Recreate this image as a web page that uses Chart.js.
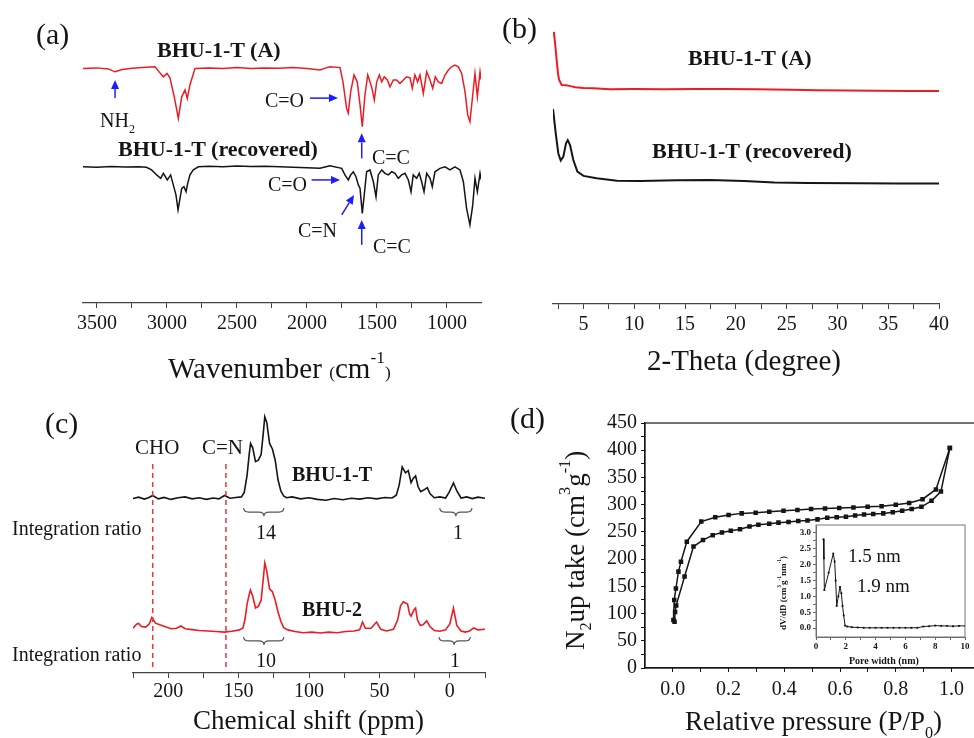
<!DOCTYPE html>
<html>
<head>
<meta charset="utf-8">
<script src="https://cdn.jsdelivr.net/npm/chart.js@4.4.1/dist/chart.umd.min.js"></script>
<style>
  html, body { margin: 0; padding: 0; background: #fff; overflow: hidden; width: 974px; height: 738px; }
  canvas { position: absolute; }
  .t { position: absolute; font-family: "Liberation Serif", "Times New Roman", serif; line-height: 1; white-space: nowrap; color: #151515; }
  .b { font-weight: bold; }
  .sp { font-size: 0.6em; position: relative; top: -0.85em; line-height: 0; }
  .sb { font-size: 0.6em; position: relative; top: 0.45em; line-height: 0; }
  .sm { font-size: 0.6em; }
</style>
</head>
<body>
<canvas id="chartA" width="490" height="390" style="left:0;top:0"></canvas>
<canvas id="chartB" width="484" height="390" style="left:490px;top:0"></canvas>
<canvas id="chartC" width="490" height="348" style="left:0;top:390px"></canvas>
<canvas id="chartD" width="495" height="348" style="left:490px;top:390px"></canvas>
<canvas id="chartInset" width="194" height="140" style="left:780px;top:515px"></canvas>
<script>
// ---- (a) FTIR, wavenumber (cm-1) vs transmittance (a.u.)
const irWaveA = [3600, 3500, 3420, 3371, 3320, 3250, 3150, 3086, 3050, 3026, 3000, 2979, 2948, 2919, 2895, 2871, 2855, 2836, 2800, 2700, 2600, 2500, 2400, 2300, 2200, 2100, 2000, 1907, 1870, 1836, 1764, 1743, 1717, 1705, 1688, 1664, 1641, 1621, 1605, 1586, 1566, 1550, 1536, 1519, 1502, 1483, 1466, 1448, 1426, 1407, 1383, 1360, 1336, 1312, 1288, 1264, 1248, 1229, 1210, 1193, 1169, 1145, 1121, 1102, 1083, 1062, 1038, 1014, 990, 967, 943, 919, 895, 871, 852, 836, 816, 800, 783, 764, 757];
const irTransA = [89.2, 89.4, 89.0, 87.9, 88.8, 89.3, 89.6, 89.8, 87.5, 86.0, 87.3, 85.6, 78.4, 70.2, 78.4, 81.0, 77.8, 82.9, 89.2, 89.4, 89.2, 89.5, 89.2, 89.4, 89.3, 89.5, 89.2, 88.6, 89.3, 89.8, 89.5, 84.1, 74.0, 72.2, 80.3, 86.7, 84.1, 75.3, 67.0, 79.1, 86.7, 84.1, 81.6, 77.2, 84.1, 86.7, 84.1, 86.0, 84.8, 82.2, 84.8, 84.8, 83.5, 84.8, 86.0, 85.6, 81.6, 86.7, 84.1, 86.7, 79.7, 87.9, 84.8, 81.6, 86.0, 84.1, 83.5, 86.7, 88.6, 89.8, 90.5, 89.8, 87.3, 80.3, 71.5, 68.9, 79.1, 87.3, 78.4, 87.9, 85.0];
const irWaveRec = [3600, 3500, 3400, 3300, 3200, 3147, 3110, 3074, 3045, 3026, 2998, 2974, 2955, 2936, 2921, 2907, 2895, 2879, 2864, 2852, 2836, 2812, 2776, 2700, 2600, 2500, 2400, 2300, 2193, 2100, 2000, 1907, 1836, 1752, 1729, 1705, 1688, 1669, 1650, 1633, 1621, 1605, 1591, 1574, 1550, 1526, 1507, 1491, 1466, 1443, 1419, 1395, 1371, 1348, 1324, 1300, 1276, 1257, 1241, 1217, 1198, 1181, 1164, 1145, 1121, 1105, 1086, 1050, 1014, 979, 943, 907, 883, 860, 836, 816, 800, 783, 764, 757];
const irTransRec = [51.8, 51.6, 51.9, 51.7, 51.8, 51.6, 50.6, 48.7, 47.4, 49.3, 46.8, 48.7, 44.9, 41.1, 35.4, 39.8, 43.6, 44.2, 42.3, 45.5, 48.7, 50.6, 51.8, 52.0, 51.8, 52.1, 51.9, 52.0, 51.8, 51.6, 51.4, 51.2, 52.2, 51.2, 48.7, 46.8, 48.7, 49.9, 48.0, 44.9, 43.6, 34.1, 41.1, 49.9, 50.6, 46.1, 40.4, 48.7, 50.6, 49.3, 48.7, 49.9, 49.3, 47.4, 48.7, 49.3, 46.8, 42.3, 48.7, 47.4, 49.3, 46.1, 42.3, 49.3, 47.4, 44.2, 49.9, 51.2, 51.8, 50.6, 51.8, 50.6, 46.1, 36.0, 29.7, 37.3, 47.4, 42.3, 49.3, 47.0];
const irMajorTicks = [1000, 1500, 2000, 2500, 3000, 3500];
const irMinorTicks = [1250, 1750, 2250, 2750, 3250];

// ---- (b) XRD, 2-theta (degree) vs intensity (a.u.)
const xrdThetaA = [2.08, 2.2, 2.36, 2.5, 2.6, 2.86, 3.3, 3.6, 4.2, 5, 6, 7.6, 10, 13, 16, 18.8, 22, 25.4, 28, 31, 34, 37, 40];
const xrdIntA = [95.8, 92.0, 85.9, 81.0, 78.9, 77.1, 77.0, 76.8, 76.3, 76.1, 76.0, 75.6, 75.7, 75.6, 75.7, 75.7, 75.6, 75.4, 75.3, 75.2, 75.1, 75.0, 75.0];
const xrdThetaRec = [2.0, 2.27, 2.52, 2.76, 3.02, 3.28, 3.45, 3.68, 4.0, 4.4, 5.0, 6.3, 8.3, 10.6, 14.2, 17.5, 20.8, 23.8, 27.1, 32, 36, 40];
const xrdIntRec = [68.7, 60.1, 53.1, 50.5, 51.9, 56.6, 57.7, 56.0, 50.7, 46.6, 45.1, 44.3, 43.4, 43.3, 43.6, 43.7, 43.3, 42.8, 42.6, 42.5, 42.4, 42.4];
const xrdMajorTicks = [5, 10, 15, 20, 25, 30, 35, 40];
const xrdMinorTicks = [2.5, 7.5, 12.5, 17.5, 22.5, 27.5, 32.5, 37.5];

// ---- (c) 13C NMR, chemical shift (ppm) vs intensity (a.u.)
const nmrShiftT = [225, 221, 217, 214, 211, 207, 203, 198, 193, 188, 183, 178, 173, 168, 164, 160, 156, 152, 148, 146, 144, 142.5, 141.5, 140, 138, 136, 134, 132.5, 131.4, 130, 128, 126, 124, 122, 120, 118, 116, 112, 106, 100, 94, 88, 82, 76, 70, 64, 58, 52, 46, 41, 38, 36, 33.8, 31.5, 29.5, 27.5, 26, 24.3, 22.5, 20.7, 18, 16, 14, 11, 7, 3, 0.5, -2.6, -5, -8, -12, -16, -20, -25];
const nmrIntT = [62.3, 62.8, 62.1, 62.6, 63.4, 62.2, 62.7, 62.0, 62.6, 62.9, 62.2, 62.6, 62.0, 62.5, 62.2, 63.4, 62.4, 62.7, 62.9, 64.5, 70.5, 78.0, 82.0, 80.5, 75.5, 76.0, 78.0, 85.5, 91.5, 89.5, 82.0, 80.0, 76.0, 69.0, 65.0, 63.2, 62.6, 62.9, 62.2, 62.6, 62.0, 61.7, 62.3, 61.9, 62.4, 62.1, 62.6, 62.2, 62.7, 62.5, 63.5, 67.0, 73.6, 71.5, 72.3, 68.0, 69.5, 70.4, 66.5, 64.8, 65.5, 66.2, 64.0, 62.6, 62.9, 62.5, 64.5, 67.9, 65.0, 62.5, 62.9, 62.3, 62.8, 62.4];
const nmrShift2 = [225, 222.5, 221, 219, 216, 213.5, 211.6, 209, 206, 202, 198, 194, 191, 188, 183, 178, 172, 166, 160, 155, 150, 147, 145.5, 144, 142.5, 141.6, 140, 138, 136, 134, 132.5, 131.4, 130, 128, 126, 124, 122, 120, 118, 115, 110, 104, 98, 92, 86, 80, 74, 68, 64, 62, 60, 56, 52, 49, 45, 40, 37, 35, 33, 31.4, 30, 28.5, 27.5, 25.5, 24.3, 23, 21, 19, 16.4, 14, 11, 7, 3, 0, -2.6, -5, -8, -11, -14, -17, -20, -25];
const nmrInt2 = [16.0, 17.4, 17.7, 16.6, 16.4, 17.5, 19.8, 17.8, 17.2, 16.5, 15.8, 16.0, 16.8, 15.8, 15.5, 15.2, 15.0, 14.8, 14.6, 14.9, 15.3, 16.0, 19.0, 24.5, 28.0, 29.6, 27.5, 23.2, 23.8, 26.0, 33.5, 39.3, 36.5, 30.0, 29.0, 26.0, 21.8, 18.5, 16.2, 15.4, 14.8, 14.4, 14.6, 14.3, 14.6, 14.4, 14.8, 15.0, 15.4, 18.2, 16.0, 16.0, 18.2, 15.6, 15.0, 15.6, 19.0, 24.0, 25.4, 25.0, 24.6, 21.0, 20.3, 22.5, 23.2, 19.0, 17.0, 17.2, 18.6, 16.5, 15.2, 14.9, 15.4, 17.5, 23.2, 17.0, 15.0, 14.6, 15.0, 16.1, 15.4, 15.6];
const nmrMajorTicks = [0, 50, 100, 150, 200];
const nmrMinorTicks = [-25, 25, 75, 125, 175, 225];
const nmrMarkerShifts = [211, 159];   // CHO, C=N

// ---- (d) N2 isotherm, P/P0 vs uptake (cm3 g-1)
const adsP = [0.006, 0.008, 0.012, 0.042, 0.074, 0.108, 0.143, 0.176, 0.208, 0.241, 0.275, 0.307, 0.346, 0.379, 0.415, 0.45, 0.483, 0.519, 0.554, 0.588, 0.621, 0.654, 0.686, 0.719, 0.755, 0.789, 0.823, 0.857, 0.892, 0.928, 0.962, 0.994];
const adsV = [85, 103, 115, 168, 223, 235, 244, 249, 252, 255, 260, 263, 265, 267, 268, 270, 271, 273, 276, 277, 278, 280, 282, 283, 284, 286, 289, 292, 296, 307, 324, 404];
const desP = [0.994, 0.944, 0.896, 0.848, 0.8, 0.749, 0.699, 0.648, 0.597, 0.546, 0.496, 0.447, 0.397, 0.346, 0.297, 0.247, 0.2, 0.152, 0.102, 0.05, 0.029, 0.02, 0.011, 0.005, 0.002];
const desV = [404, 328, 310, 303, 300, 297, 296, 295, 294, 293, 292, 290, 289, 287, 285, 284, 281, 277, 269, 232, 195, 177, 146, 125, 88];
const isoXMajor = [0, 0.2, 0.4, 0.6, 0.8, 1.0];
const isoXMinor = [0.1, 0.3, 0.5, 0.7, 0.9];
const isoYMajor = [0, 50, 100, 150, 200, 250, 300, 350, 400, 450];
const isoYMinor = [25, 75, 125, 175, 225, 275, 325, 375, 425];

// ---- (d) inset, pore size distribution
const poreWidth = [0.5, 0.53, 0.56, 0.85, 1.16, 1.25, 1.32, 1.39, 1.5, 1.61, 1.7, 1.78, 1.86, 1.95, 2.1, 2.4, 2.8, 3.2, 3.6, 4.0, 4.4, 4.8, 5.2, 5.6, 6.0, 6.4, 6.8, 7.2, 7.6, 8.0, 8.4, 8.8, 9.2, 9.6, 10.0];
const poreDvDd = [2.8, 2.2, 1.2, 1.75, 2.35, 2.1, 1.5, 0.7, 1.0, 1.3, 1.1, 0.7, 0.4, 0.08, 0.05, 0.03, 0.02, 0.01, 0.01, 0.01, 0.01, 0.01, 0.01, 0.01, 0.01, 0.01, 0.01, 0.05, 0.06, 0.08, 0.07, 0.07, 0.06, 0.07, 0.07];
const insetXMajor = [0, 2, 4, 6, 8, 10];
const insetXMinor = [1, 3, 5, 7, 9];
const insetYMajor = [0, 0.5, 1.0, 1.5, 2.0, 2.5, 3.0];
const insetYMinor = [0.25, 0.75, 1.25, 1.75, 2.25, 2.75];

const SERIF = '"Liberation Serif", "Times New Roman", serif';
const INK = '#151515';
const RED = '#ec1c24';
const BLUE = '#1d1dff';

function tickList(major, minor) {
  return [...major, ...minor].sort((a, b) => a - b).map(v => ({ value: v }));
}

function axis(o) {
  const majorSet = new Set(o.major);
  const horiz = o.pos === 'bottom';
  return {
    type: 'linear', position: o.pos, min: o.min, max: o.max, reverse: !!o.reverse,
    afterBuildTicks: ax => { ax.ticks = tickList(o.major, o.minor); },
    afterFit: ax => {
      if (horiz) { ax.height = o.size; ax.paddingLeft = 0; ax.paddingRight = 0; }
      else { ax.width = o.size; ax.paddingTop = 0; ax.paddingBottom = 0; }
    },
    grid: { drawOnChartArea: false, drawTicks: true, tickLength: o.tickLength || 5, tickColor: o.color || INK, tickWidth: 1 },
    border: { display: true, color: o.color || INK, width: o.lineWidth || 1.2 },
    ticks: {
      autoSkip: false, maxRotation: 0, padding: o.pad, color: INK,
      font: { family: SERIF, size: o.font, weight: o.bold ? 'bold' : 'normal' },
      callback: v => majorSet.has(v) ? o.fmt(v) : ''
    }
  };
}

function series(xs, ys, color, width, extra) {
  return Object.assign({
    data: xs.map((x, i) => ({ x, y: ys[i] })),
    showLine: true, borderColor: color, backgroundColor: color, borderWidth: width,
    pointRadius: 0, tension: 0
  }, extra || {});
}

// extra drawings (arrows, dashed markers, braces, frame) placed in data coordinates
function decorations(spec) {
  return {
    id: 'deco',
    afterDatasetsDraw(chart) {
      const { ctx, chartArea: ca } = chart;
      const sx = chart.scales.x, sy = chart.scales.y;
      const X = v => sx.getPixelForValue(v), Y = v => sy.getPixelForValue(v);
      ctx.save();
      (spec.dashes || []).forEach(d => {
        ctx.strokeStyle = d.color; ctx.lineWidth = 1.5; ctx.setLineDash([5, 4]);
        ctx.beginPath(); ctx.moveTo(X(d.x), Y(d.y1)); ctx.lineTo(X(d.x), Y(d.y2)); ctx.stroke();
      });
      ctx.setLineDash([]);
      (spec.arrows || []).forEach(a => {
        const x1 = X(a.x1), y1 = Y(a.y1), x2 = X(a.x2), y2 = Y(a.y2);
        const ang = Math.atan2(y2 - y1, x2 - x1), hl = 9, hw = 4;
        const bx = x2 - hl * Math.cos(ang), by = y2 - hl * Math.sin(ang);
        ctx.strokeStyle = BLUE; ctx.fillStyle = BLUE; ctx.lineWidth = 1.5;
        ctx.beginPath(); ctx.moveTo(x1, y1); ctx.lineTo(bx, by); ctx.stroke();
        ctx.beginPath();
        ctx.moveTo(x2, y2);
        ctx.lineTo(bx + hw * Math.sin(ang), by - hw * Math.cos(ang));
        ctx.lineTo(bx - hw * Math.sin(ang), by + hw * Math.cos(ang));
        ctx.closePath(); ctx.fill();
      });
      (spec.braces || []).forEach(b => {
        const l = Math.min(X(b.x1), X(b.x2)), r = Math.max(X(b.x1), X(b.x2)), c = X(b.xc);
        const yt = Y(b.yt), yb = Y(b.yb), ym = (yt + yb) / 2, k = 5;
        ctx.strokeStyle = '#555'; ctx.lineWidth = 1.2;
        ctx.beginPath();
        ctx.moveTo(l, yt);
        ctx.quadraticCurveTo(l, ym, l + k, ym);
        ctx.lineTo(c - k, ym);
        ctx.quadraticCurveTo(c, ym, c, yb);
        ctx.quadraticCurveTo(c, ym, c + k, ym);
        ctx.lineTo(r - k, ym);
        ctx.quadraticCurveTo(r, ym, r, yt);
        ctx.stroke();
      });
      if (spec.frame) {
        ctx.strokeStyle = spec.frame.color; ctx.lineWidth = spec.frame.width;
        ctx.strokeRect(ca.left, ca.top, ca.right - ca.left, ca.bottom - ca.top);
      }
      ctx.restore();
    }
  };
}

function makeChart(id, datasets, scales, padding, spec) {
  return new Chart(document.getElementById(id), {
    type: 'scatter',
    data: { datasets },
    options: {
      responsive: false, animation: false, events: [],
      layout: { padding },
      scales,
      plugins: { legend: { display: false }, tooltip: { enabled: false } }
    },
    plugins: [decorations(spec)]
  });
}

const hiddenY = { display: false, min: 0, max: 100 };

// (a)
makeChart('chartA', [
  series(irWaveA, irTransA, RED, 1.5),
  series(irWaveRec, irTransRec, INK, 1.5)
], {
  x: axis({ pos: 'bottom', min: 757, max: 3600, reverse: true, major: irMajorTicks, minor: irMinorTicks,
            fmt: v => String(v), size: 87, pad: 4, font: 20, color: '#444' }),
  y: hiddenY
}, { left: 83, right: 9, top: 40, bottom: 0 }, {
  arrows: [
    { x1: 3371, y1: 77.9, x2: 3371, y2: 84.8 },
    { x1: 1979, y1: 77.9, x2: 1779, y2: 77.9 },
    { x1: 1609, y1: 55.0, x2: 1609, y2: 64.5 },
    { x1: 1967, y1: 46.8, x2: 1764, y2: 46.8 },
    { x1: 1752, y1: 33.5, x2: 1664, y2: 41.1 },
    { x1: 1609, y1: 22.1, x2: 1609, y2: 31.6 }
  ]
});

// (b)
makeChart('chartB', [
  series(xrdThetaA, xrdIntA, RED, 2),
  series(xrdThetaRec, xrdIntRec, INK, 2)
], {
  x: axis({ pos: 'bottom', min: 2, max: 40, major: xrdMajorTicks, minor: xrdMinorTicks,
            fmt: v => String(v), size: 86, pad: 4, font: 20, color: '#444' }),
  y: hiddenY
}, { left: 63, right: 35, top: 20, bottom: 0 }, {});

// (c)
makeChart('chartC', [
  series(nmrShiftT, nmrIntT, INK, 1.6),
  series(nmrShift2, nmrInt2, RED, 1.6)
], {
  x: axis({ pos: 'bottom', min: -25, max: 225, reverse: true, major: nmrMajorTicks, minor: nmrMinorTicks,
            fmt: v => String(v), size: 65, pad: 2, font: 20, color: '#444' }),
  y: hiddenY
}, { left: 133, right: 5, top: 3, bottom: 0 }, {
  dashes: nmrMarkerShifts.map(s => ({ x: s, y1: 2.1, y2: 75, color: '#e8343a' })),
  braces: [
    { x1: 146.4, x2: 117.9, xc: 132, yt: 58.9, yb: 56.0 },
    { x1: 7.1, x2: -15.7, xc: -4.3, yt: 58.9, yb: 56.0 },
    { x1: 146.4, x2: 117.9, xc: 132, yt: 12.9, yb: 10.0 },
    { x1: 7.6, x2: -14.5, xc: -3.1, yt: 12.9, yb: 10.0 }
  ]
});

// (d)
const isoPoint = { pointStyle: 'rect', pointRadius: 3.2, pointBackgroundColor: INK, pointBorderColor: INK, pointBorderWidth: 0 };
makeChart('chartD', [
  series(adsP, adsV, INK, 1.5, isoPoint),
  series(desP, desV, INK, 1.5, isoPoint)
], {
  x: axis({ pos: 'bottom', min: -0.1, max: 1.1, major: isoXMajor, minor: isoXMinor,
            fmt: v => v.toFixed(1), size: 70, pad: 6, font: 20, tickLength: 4 }),
  y: axis({ pos: 'left', min: 0, max: 450, major: isoYMajor, minor: isoYMinor,
            fmt: v => String(v), size: 155, pad: 4, font: 20, tickLength: 4 })
}, { left: 0, right: 5.6, top: 33, bottom: 0 }, { frame: { color: INK, width: 1.2 } });

// (d) inset
makeChart('chartInset', [
  series(poreWidth, poreDvDd, INK, 1, { pointStyle: 'rect', pointRadius: 1.3, pointBackgroundColor: INK, pointBorderWidth: 0 })
], {
  x: axis({ pos: 'bottom', min: 0, max: 10, major: insetXMajor, minor: insetXMinor,
            fmt: v => String(v), size: 18, pad: 1, font: 9, bold: true, tickLength: 3, color: '#666', lineWidth: 1 }),
  y: axis({ pos: 'left', min: -0.28, max: 3.25, major: insetYMajor, minor: insetYMinor,
            fmt: v => v.toFixed(1), size: 36, pad: 2, font: 9, bold: true, tickLength: 3, color: '#666', lineWidth: 1 })
}, { left: 0, right: 9, top: 10, bottom: 0 }, { frame: { color: '#777', width: 1 } });

// ---- text
function put(html, x, base, size, o) {
  o = o || {};
  const d = document.createElement('div');
  d.className = 't' + (o.bold ? ' b' : '');
  d.innerHTML = html;
  d.style.fontSize = size + 'px';
  if (o.color) d.style.color = o.color;
  if (o.rot) {
    d.style.left = (x - 0.837 * size) + 'px';
    d.style.top = base + 'px';
    d.style.transformOrigin = '0 0';
    d.style.transform = 'rotate(-90deg)';
  } else {
    d.style.left = x + 'px';
    d.style.top = (base - 0.837 * size) + 'px';
    if (o.center) d.style.transform = 'translateX(-50%)';
  }
  document.body.appendChild(d);
}

put('(a)', 36, 44, 30);
put('BHU-1-T (A)', 157, 57, 22, { bold: true });
put('BHU-1-T (recovered)', 118, 156, 22, { bold: true });
put('NH<span class="sb">2</span>', 100, 127, 20);
put('C=O', 265, 107, 20);
put('C=C', 372, 164, 20);
put('C=O', 268, 191, 20);
put('C=N', 298, 237, 20);
put('C=C', 373, 253, 20);
put('Wavenumber <span class="sm">(</span>cm<span class="sp">-1</span><span class="sm">)</span>', 168, 378, 29);

put('(b)', 502, 38, 30);
put('BHU-1-T (A)', 688, 65, 22, { bold: true });
put('BHU-1-T (recovered)', 652, 158, 22, { bold: true });
put('2-Theta (degree)', 647, 370, 29);

put('(c)', 45, 433, 30);
put('CHO', 135, 455, 21);
put('C=N', 202, 455, 21);
put('BHU-1-T', 292, 481, 20, { bold: true });
put('BHU-2', 302, 616, 20, { bold: true });
put('Integration ratio', 12, 535, 20);
put('Integration ratio', 12, 661, 20);
put('14', 266, 539, 20, { center: true });
put('1', 458, 539, 20, { center: true });
put('10', 266, 667, 20, { center: true });
put('1', 455, 667, 20, { center: true });
put('Chemical shift (ppm)', 193, 730, 27);

put('(d)', 510, 428, 30);
put('N<span class="sb">2</span>up take (cm<span class="sp">3</span>g<span class="sp">-1</span>)', 585, 650, 27, { rot: true });
put('Relative pressure (P/P<span class="sb">0</span>)', 685, 731, 27);
put('1.5 nm', 848, 562, 19);
put('1.9 nm', 857, 592, 19);
put('Pore width (nm)', 849, 664, 10, { bold: true });
put('dV/dD (cm<span class="sp">3</span>g<span class="sp">-1</span>nm<span class="sp">-1</span>)', 787, 630, 9, { bold: true, rot: true });
</script>
</body>
</html>
